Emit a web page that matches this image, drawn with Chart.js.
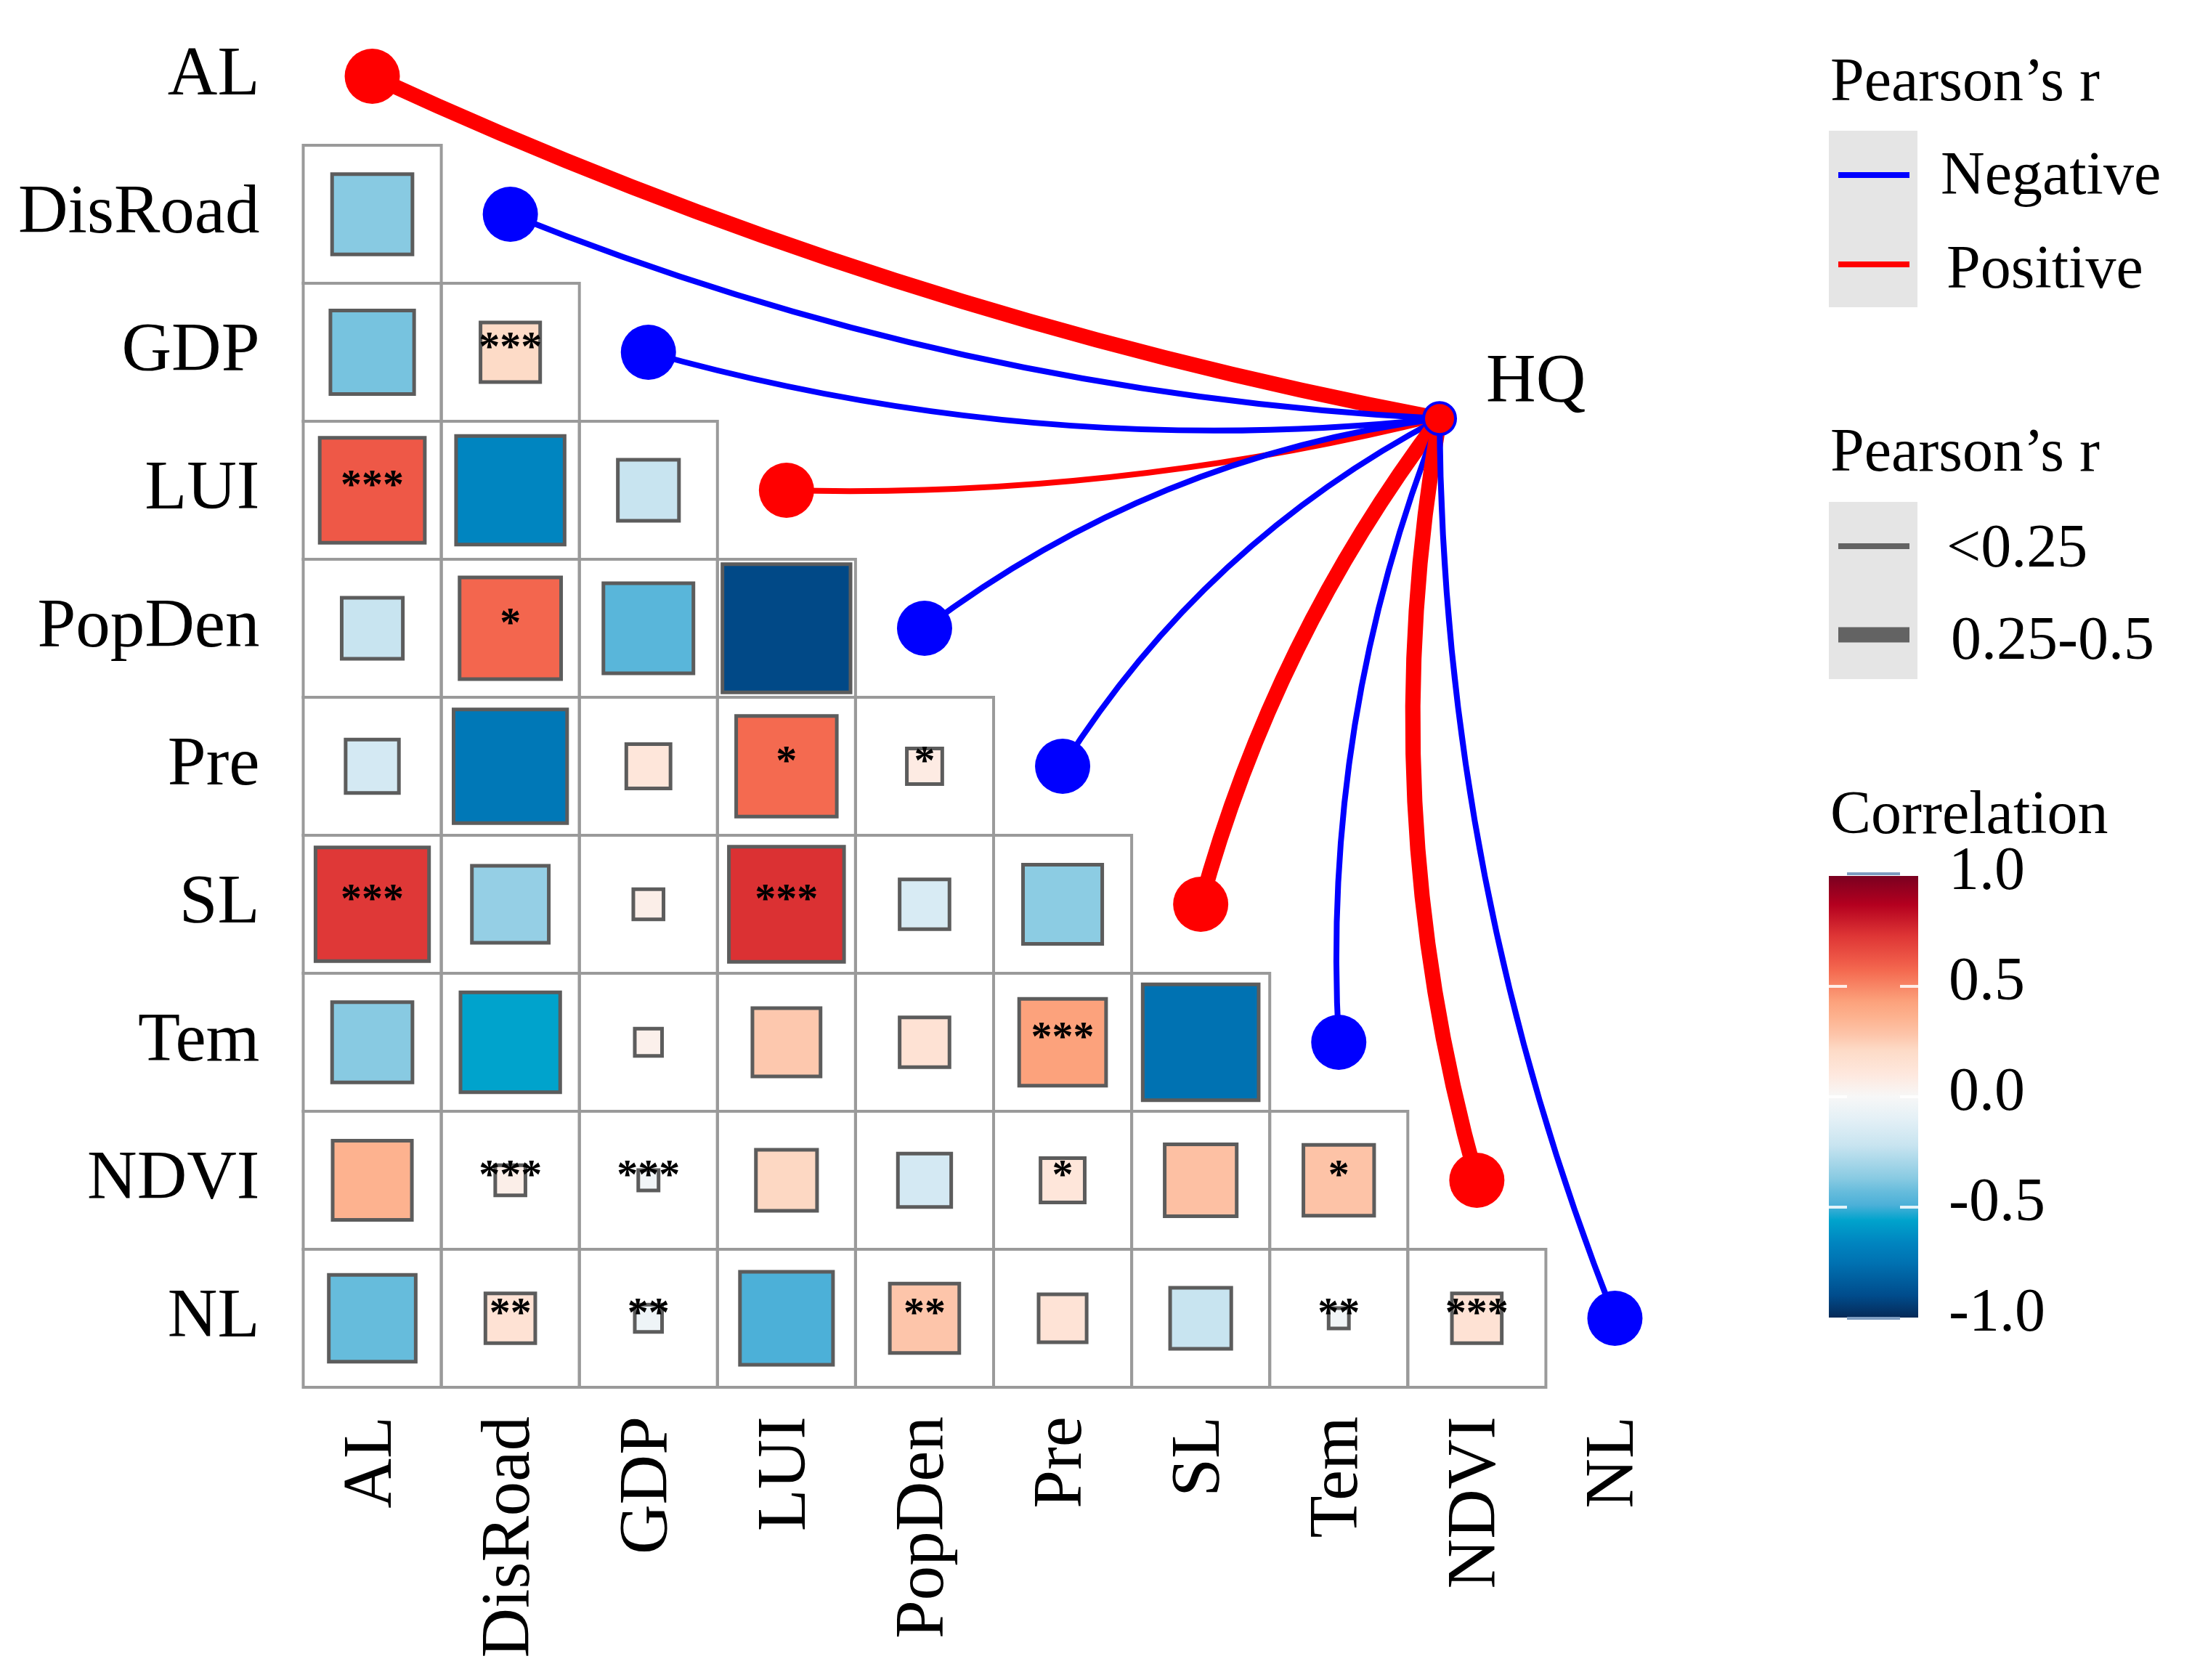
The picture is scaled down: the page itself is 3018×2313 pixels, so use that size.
<!DOCTYPE html>
<html>
<head>
<meta charset="utf-8">
<script src="https://cdn.jsdelivr.net/npm/chart.js@4.4.1/dist/chart.umd.min.js"></script>
<style>
html,body{margin:0;padding:0;background:#ffffff;}
canvas{display:block;}
</style>
</head>
<body>
<canvas id="c" width="3018" height="2313" style="width:3018px;height:2313px"></canvas>
<script>
// ---------------- DATA ----------------
const categories = ['AL','DisRoad','GDP','LUI','PopDen','Pre','SL','Tem','NDVI','NL'];

// lower-triangle Pearson correlations: row i holds columns 0..i-1
const corrRows = [
  [],
  [-0.37],
  [-0.40, 0.21],
  [0.62, -0.66, -0.22],
  [-0.22, 0.58, -0.46, -0.91],
  [-0.17, -0.72, 0.12, 0.57, 0.08],
  [0.72, -0.34, 0.06, 0.74, -0.15, -0.36],
  [-0.37, -0.56, 0.05, 0.27, 0.15, 0.43, -0.75],
  [0.36, 0.06, -0.03, 0.22, -0.17, 0.12, 0.30, 0.29],
  [-0.43, 0.15, -0.05, -0.49, 0.28, 0.14, -0.22, -0.03, 0.15]
];

// significance marks, same layout as corrRows
const sigRows = [
  [],
  [''],
  ['', '***'],
  ['***', '', ''],
  ['', '*', '', ''],
  ['', '', '', '*', '*'],
  ['***', '', '', '***', '', ''],
  ['', '', '', '', '', '***', ''],
  ['', '***', '***', '', '', '*', '', '*'],
  ['', '**', '**', '', '**', '', '', '**', '***']
];

// HQ links: sign and Pearson's r class per variable
const linkSign  = ['Positive','Negative','Negative','Positive','Negative','Negative','Positive','Negative','Positive','Negative'];
const linkClass = ['0.25-0.5','<0.25','<0.25','<0.25','<0.25','<0.25','0.25-0.5','<0.25','0.25-0.5','<0.25'];

const signLabels  = ['Negative','Positive'];
const classLabels = ['<0.25','0.25-0.5'];
const colorbarTicks = [1.0, 0.5, 0.0, -0.5, -1.0];

// ---------------- STYLE / LAYOUT ----------------
const hqPos = {x: 7.73, y: 2.48};               // node position in matrix units
const linkBend = [-0.031,-0.042,-0.048,-0.034,0.066,0.067,0.048,0.055,0.057,0.047];
const signColor = {Negative:'#0000ff', Positive:'#ff0000'};
const classWidth = {'<0.25': 8, '0.25-0.5': 21};
const FONT = '"Liberation Serif","Times New Roman",serif';
const AREA = {left:417.5, top:10, right:2318.5, bottom:1910};

const palette = [
  [-1.00,'#062a58'],[-0.90,'#004c8c'],[-0.75,'#0072b2'],[-0.66,'#0085c0'],
  [-0.56,'#00a3cc'],[-0.49,'#4cb0d8'],[-0.43,'#66bcdc'],[-0.37,'#88cae2'],
  [-0.22,'#c8e4f0'],[-0.10,'#e4f0f6'],[0.00,'#f7f7f7'],[0.10,'#fee8de'],
  [0.21,'#fddbc7'],[0.28,'#fdc5aa'],[0.36,'#fdb28f'],[0.43,'#fca27c'],
  [0.57,'#f46a50'],[0.62,'#ee5847'],[0.73,'#de3535'],[0.87,'#b4001f'],[1.00,'#7a0020']
];
function hexToRgb(h){const n=parseInt(h.slice(1),16);return [(n>>16)&255,(n>>8)&255,n&255];}
function corrColor(v){
  v=Math.max(-1,Math.min(1,v));
  for(let i=1;i<palette.length;i++){
    if(v<=palette[i][0]){
      const a=palette[i-1][0], b=palette[i][0];
      const A=hexToRgb(palette[i-1][1]), B=hexToRgb(palette[i][1]);
      const t=(v-a)/(b-a);
      return 'rgb('+A.map((x,k)=>Math.round(x+(B[k]-x)*t)).join(',')+')';
    }
  }
  return palette[palette.length-1][1];
}

// build cell list from the arrays
const cells = [];
corrRows.forEach((row, r) => row.forEach((v, c) => cells.push({x:c, y:r, v:v, sig:sigRows[r][c]})));
const nodes = categories.map((name, i) => ({x:i, y:i, sign:linkSign[i]}));

function cellSize(chart){
  const sx=chart.scales.x;
  return Math.abs(sx.getPixelForValue(1)-sx.getPixelForValue(0));
}
const SQ_BORDER = 5;

const matrixPlugin = {
  id:'matrixPlugin',
  afterLayout(chart){
    // pin the plotting area exactly
    const y=chart.scales.y, x=chart.scales.x, ca=chart.chartArea;
    y.top=AREA.top; y.bottom=AREA.bottom; y.height=AREA.bottom-AREA.top; y.configure();
    x.left=AREA.left; x.right=AREA.right; x.width=AREA.right-AREA.left; x.configure();
    ca.top=AREA.top; ca.bottom=AREA.bottom; ca.left=AREA.left; ca.right=AREA.right;
    ca.height=AREA.bottom-AREA.top; ca.width=AREA.right-AREA.left;
  },
  beforeDatasetsDraw(chart){
    const {ctx} = chart; const sx=chart.scales.x, sy=chart.scales.y;
    const cw=Math.abs(sx.getPixelForValue(1)-sx.getPixelForValue(0));
    const chh=Math.abs(sy.getPixelForValue(1)-sy.getPixelForValue(0));
    ctx.save();
    ctx.strokeStyle='#9a9a9a'; ctx.lineWidth=4;
    cells.forEach(c=>{
      const px=sx.getPixelForValue(c.x), py=sy.getPixelForValue(c.y);
      ctx.strokeRect(px-cw/2, py-chh/2, cw, chh);
    });
    // links HQ -> variables
    const hx=sx.getPixelForValue(hqPos.x), hy=sy.getPixelForValue(hqPos.y);
    categories.forEach((cat,i)=>{
      const tx=sx.getPixelForValue(i), ty=sy.getPixelForValue(i);
      const dx=tx-hx, dy=ty-hy, b=linkBend[i];
      const cx=(hx+tx)/2+2*b*(-dy), cy=(hy+ty)/2+2*b*dx;
      ctx.beginPath(); ctx.moveTo(hx,hy); ctx.quadraticCurveTo(cx,cy,tx,ty);
      ctx.strokeStyle=signColor[linkSign[i]]; ctx.lineWidth=classWidth[linkClass[i]];
      ctx.lineCap='butt'; ctx.stroke();
    });
    ctx.restore();
  },
  afterDatasetsDraw(chart){
    const {ctx}=chart; const sx=chart.scales.x, sy=chart.scales.y;
    ctx.save();
    ctx.fillStyle='#000'; ctx.font='bold 58px '+FONT; ctx.textAlign='center'; ctx.textBaseline='middle';
    cells.forEach(c=>{
      if(c.sig){ ctx.fillText(c.sig, sx.getPixelForValue(c.x), sy.getPixelForValue(c.y)-4); }
    });
    // HQ label
    const hx=sx.getPixelForValue(hqPos.x), hy=sy.getPixelForValue(hqPos.y);
    ctx.font='95px '+FONT; ctx.textAlign='left'; ctx.textBaseline='alphabetic';
    ctx.fillText('HQ', hx+64, hy-23);
    ctx.restore();
  },
  afterDraw(chart){
    const {ctx}=chart;
    ctx.save();
    ctx.fillStyle='#000'; ctx.textAlign='left'; ctx.textBaseline='alphabetic';
    ctx.font='84px '+FONT;
    // legend 1: sign
    ctx.fillText('Pearson\u2019s r', 2520, 138);
    ctx.fillStyle='#e5e5e5'; ctx.fillRect(2518,180,122,243);
    const signY=[241,364], signTextY=[267,396], signTextX=[2672,2680];
    signLabels.forEach((lab,k)=>{
      ctx.strokeStyle=signColor[lab]; ctx.lineWidth=8; ctx.lineCap='butt';
      ctx.beginPath(); ctx.moveTo(2531,signY[k]); ctx.lineTo(2629,signY[k]); ctx.stroke();
      ctx.fillStyle='#000'; ctx.fillText(lab, signTextX[k], signTextY[k]);
    });
    // legend 2: magnitude
    ctx.fillText('Pearson\u2019s r', 2520, 648);
    ctx.fillStyle='#e5e5e5'; ctx.fillRect(2518,691,122,244);
    const clsY=[752,874], clsTextY=[780,907], clsTextX=[2680,2686];
    classLabels.forEach((lab,k)=>{
      ctx.strokeStyle='#636363'; ctx.lineWidth=classWidth[lab]; ctx.lineCap='butt';
      ctx.beginPath(); ctx.moveTo(2531,clsY[k]); ctx.lineTo(2629,clsY[k]); ctx.stroke();
      ctx.fillStyle='#000'; ctx.fillText(lab, clsTextX[k], clsTextY[k]);
    });
    // legend 3: colour bar
    ctx.fillText('Correlation', 2520, 1147);
    const top=1206, bot=1814, left=2518, w=123;
    const g=ctx.createLinearGradient(0,top,0,bot);
    palette.forEach(([v,c])=>g.addColorStop((1-v)/2,c));
    ctx.fillStyle=g; ctx.fillRect(left,top,w,bot-top);
    const valToY=v=>top+(1-v)/2*(bot-top);
    ctx.strokeStyle='rgba(255,255,255,0.85)'; ctx.lineWidth=4;
    colorbarTicks.forEach(v=>{
      const yy=valToY(v);
      if(Math.abs(v)<1){
        ctx.beginPath(); ctx.moveTo(left,yy); ctx.lineTo(left+25,yy);
        ctx.moveTo(left+w-25,yy); ctx.lineTo(left+w,yy); ctx.stroke();
      }
    });
    ctx.strokeStyle='#7d9cc0'; ctx.lineWidth=4;
    ctx.beginPath(); ctx.moveTo(left+25,top-3); ctx.lineTo(left+w-25,top-3);
    ctx.moveTo(left+25,bot+1); ctx.lineTo(left+w-25,bot+1); ctx.stroke();
    ctx.fillStyle='#000'; ctx.textBaseline='middle';
    colorbarTicks.forEach(v=>{ ctx.fillText(v.toFixed(1), 2683, valToY(v)-4); });
    ctx.restore();
  }
};

const tickFont = {family: FONT, size: 95};
function zeroPad(axis){ axis.paddingTop=0; axis.paddingBottom=0; axis.paddingLeft=0; axis.paddingRight=0; }

new Chart(document.getElementById('c'), {
  type:'scatter',
  data:{
    datasets:[
      {
        label:'cells', data:cells, clip:false, pointStyle:'rect',
        backgroundColor:ctx=>corrColor(ctx.raw.v),
        borderColor:'#5c5c5c', borderWidth:SQ_BORDER,
        pointRadius:ctx=>Math.max(1,(Math.sqrt(Math.abs(ctx.raw.v))*cellSize(ctx.chart)-SQ_BORDER)/Math.SQRT2),
        pointHoverRadius:ctx=>Math.max(1,(Math.sqrt(Math.abs(ctx.raw.v))*cellSize(ctx.chart)-SQ_BORDER)/Math.SQRT2)
      },
      {
        label:'nodes', data:nodes, clip:false, pointStyle:'circle',
        backgroundColor:ctx=>signColor[ctx.raw.sign],
        borderWidth:0, pointRadius:38, pointHoverRadius:38
      },
      {
        label:'HQ', data:[{x:hqPos.x, y:hqPos.y}], clip:false, pointStyle:'circle',
        backgroundColor:'#ff0000', borderColor:'#0000ff',
        borderWidth:4, pointRadius:22, pointHoverRadius:22
      }
    ]
  },
  options:{
    responsive:false, animation:false, devicePixelRatio:1, events:[],
    layout:{padding:{left:0, top:10, right:3018-2318.5, bottom:0}},
    plugins:{legend:{display:false}, tooltip:{enabled:false}},
    scales:{
      x:{
        type:'linear', position:'bottom', min:-0.5, max:9.5,
        grid:{display:false, drawTicks:false}, border:{display:false},
        afterBuildTicks:axis=>{axis.ticks=categories.map((c,i)=>({value:i}));},
        afterFit:axis=>{axis.height=2313-1910; zeroPad(axis);},
        ticks:{font:tickFont, color:'#000', padding:40, minRotation:90, maxRotation:90, autoSkip:false,
               callback:v=>categories[v]}
      },
      y:{
        type:'linear', position:'left', min:-0.5, max:9.5, reverse:true,
        grid:{display:false, drawTicks:false}, border:{display:false},
        afterBuildTicks:axis=>{axis.ticks=categories.map((c,i)=>({value:i}));},
        afterFit:axis=>{axis.width=417.5; zeroPad(axis);},
        ticks:{font:tickFont, color:'#000', padding:60, autoSkip:false,
               callback:v=>categories[v]}
      }
    }
  },
  plugins:[matrixPlugin]
});
</script>
</body>
</html>
